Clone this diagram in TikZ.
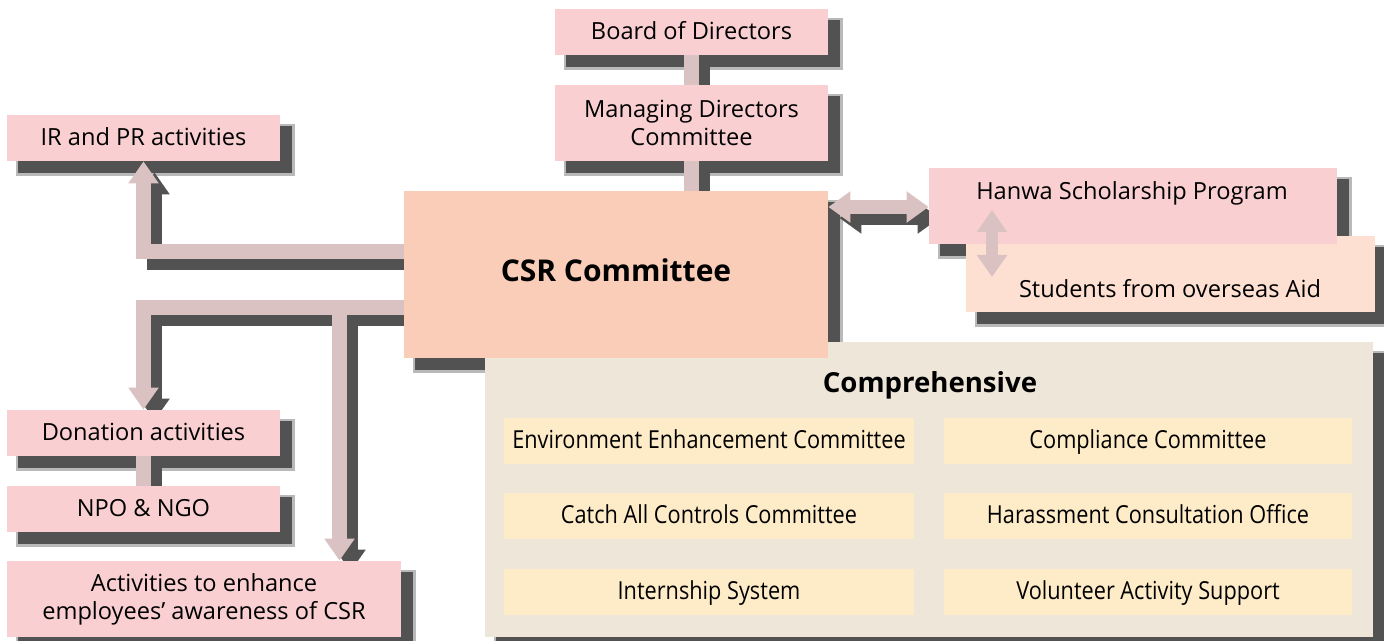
\documentclass[tikz,border=0pt]{standalone}
\usepackage{fontspec}
\setmainfont{Open Sans}
\newfontfamily\condfont[FakeStretch=0.875]{Open Sans}
\usetikzlibrary{arrows.meta,calc}
\definecolor{pinkbox}{RGB}{249,207,210}
\definecolor{peach}{RGB}{249,205,183}
\definecolor{lightpeach}{RGB}{253,224,210}
\definecolor{beige}{RGB}{238,230,216}
\definecolor{cream}{RGB}{254,236,200}
\definecolor{barc}{RGB}{219,194,194}
\definecolor{shadc}{RGB}{82,82,82}
\definecolor{shadhalo}{RGB}{185,185,185}
\pgfdeclarelayer{shadow}
\pgfsetlayers{shadow,main}
\newcommand\mkshadow[1]{%
  \fill[shadhalo] ($(#1.north west)+(9,9)$) rectangle ($(#1.south east)+(15,15)$);
  \fill[shadc] ($(#1.north west)+(11,11)$) rectangle ($(#1.south east)+(12,12)$);}
\tikzset{
  headA/.tip={Triangle[width=14.5pt,length=11pt]},
  headB/.tip={Triangle[width=15pt,length=11pt]},
  oneline/.style={text height=0.72em, text depth=0em},
  basebox/.style={rectangle, inner sep=0pt, align=center, font=\fontsize{11.8}{14}\selectfont},
  pinkb/.style={basebox, fill=pinkbox, minimum width=136.5pt, minimum height=23pt},
  csrbox/.style={basebox, oneline, fill=peach, minimum width=212pt, minimum height=83.5pt,
    font=\fontsize{15}{18}\selectfont\bfseries},
  compbox/.style={basebox, fill=beige, minimum width=444pt, minimum height=147.5pt},
  innerb/.style={basebox, oneline, fill=cream, minimum height=23pt,
    font=\condfont\fontsize{12.4}{14}\selectfont},
  plaintext/.style={inner sep=0pt, oneline, font=\fontsize{11.8}{14}\selectfont},
  bar/.style={draw=barc, line width=7.5pt},
  thinbar/.style={draw=barc, line width=7pt},
  vbar/.style={draw=barc, line width=6pt},
  shbar/.style={draw=shadc, line width=#1},
}
\begin{document}
\begin{tikzpicture}[x=0.5pt,y=-0.5pt]
\useasboundingbox (0,0) rectangle (1384,641);
% comprehensive group
\node[compbox] (comp) at (929,489.5) {};
\node[plaintext, font=\fontsize{13.8}{16}\selectfont\bfseries] (compt) at (930,385) {Comprehensive};
\node[innerb, minimum width=205pt] (env) at (709,441) {Environment Enhancement Committee};
\node[innerb, minimum width=204pt] (compl) at (1148,441) {Compliance Committee};
\node[innerb, minimum width=205pt] (catch) at (709,516) {Catch All Controls Committee};
\node[innerb, minimum width=204pt] (har) at (1148,516) {Harassment Consultation Office};
\node[innerb, minimum width=205pt] (intern) at (709,592) {Internship System};
\node[innerb, minimum width=204pt] (vol) at (1148,592) {Volunteer Activity Support};
% scholarship
\node[basebox, fill=lightpeach, minimum width=204.5pt, minimum height=38pt] (stud) at (1170.5,274) {};
\node[plaintext] (studt) at (1170,290) {Students from overseas Aid};
\node[basebox, fill=pinkbox, minimum width=204pt, minimum height=38pt] (hanwa) at (1133,206) {};
\node[plaintext] (hanwat) at (1132,192) {Hanwa Scholarship Program};
% central
\node[csrbox] (csr) at (616,274.5) {CSR Committee};
\node[pinkb, oneline] (board) at (691.5,32) {Board of Directors};
\node[pinkb, minimum height=38pt] (mdc) at (691.5,123) {Managing Directors\\Committee};
\node[pinkb, oneline] (ir) at (143.5,138) {IR and PR activities};
\node[pinkb, oneline] (don) at (143.5,433) {Donation activities};
\node[pinkb, oneline] (npo) at (143.5,509) {NPO \& NGO};
\node[pinkb, minimum width=197pt, minimum height=38pt] (act) at (204,599) {Activities to enhance\\employees’ awareness of CSR};
% connector anchor points
\coordinate (p1) at ([shift={(0,-23)}]csr.west);
\coordinate (p2) at ([shift={(0,33)}]csr.west);
\coordinate (j2) at (339.5,307.5);
\coordinate (h1) at ([shift={(0,-67.5)}]csr.east);
\coordinate (v1) at (992,210);
\coordinate (v2) at (992,277);
% shadows
\begin{pgfonlayer}{shadow}
  \foreach \n in {comp,stud,hanwa,csr,board,mdc,ir,don,npo,act} {\mkshadow{\n}}
  \begin{scope}[transform canvas={xshift=5.5pt,yshift=-5.5pt}]
    \draw[shbar=7.5pt, -{headA}] (p1) -| (ir.south);
    \draw[shbar=7.5pt, -{headA}] (p2) -| (don.north);
    \draw[shbar=7.5pt, -{headA}] (j2) -- (j2 |- act.north);
    \draw[shbar=7.5pt] (don.south) -- (npo.north);
    \draw[shbar=7.5pt] (board.south) -- (mdc.north);
    \draw[shbar=7.5pt] (mdc.south) -- (mdc.south |- csr.north);
    \draw[shbar=7pt, {headB}-{headB}] (h1) -- (h1 -| hanwa.west);
  \end{scope}
\end{pgfonlayer}
% connectors
\draw[bar, -{headA}] (p1) -| (ir.south);
\draw[bar, -{headA}] (p2) -| (don.north);
\draw[bar, -{headA}] (j2) -- (j2 |- act.north);
\draw[bar] (don.south) -- (npo.north);
\draw[bar] (board.south) -- (mdc.north);
\draw[bar] (mdc.south) -- (mdc.south |- csr.north);
\draw[thinbar, {headB}-{headB}] (h1) -- (h1 -| hanwa.west);
\draw[vbar, {headA}-{headA}] (v1) -- (v2);
\end{tikzpicture}
\end{document}
